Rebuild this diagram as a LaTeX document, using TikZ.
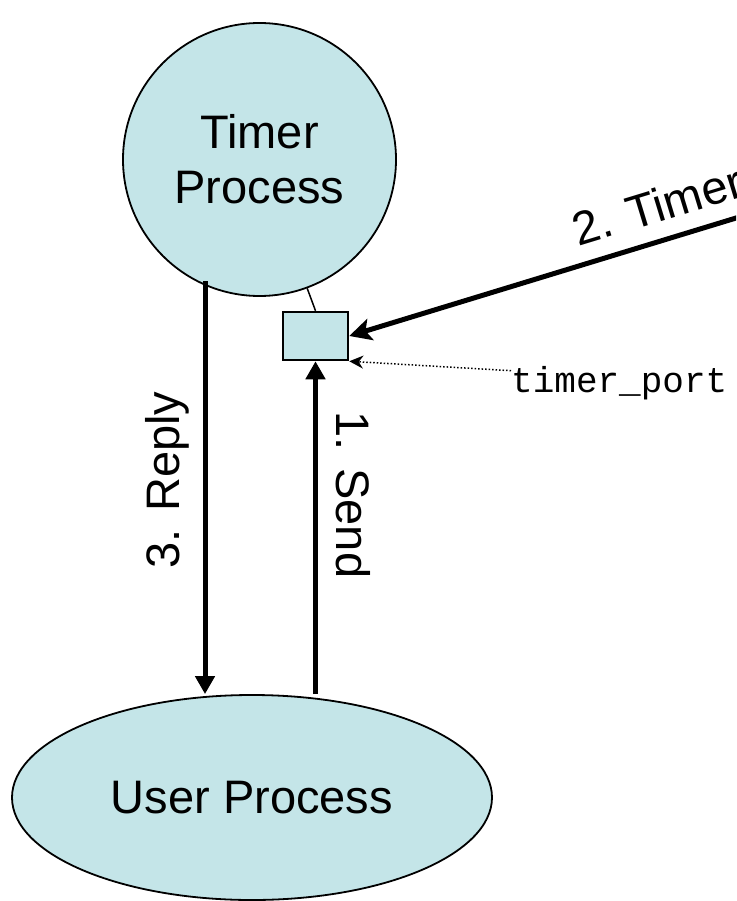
\documentclass[tikz,border=0pt]{standalone}
\usepackage{fontspec}
\setmainfont{Liberation Sans}
\setmonofont{Liberation Mono}
\usetikzlibrary{arrows.meta,shapes.geometric}
\definecolor{procfill}{RGB}{196,229,232}
\begin{document}
\begin{tikzpicture}
[x=1pt,y=-1pt,
 proc/.style={draw,line width=1.8pt,fill=procfill,font=\fontsize{47}{55}\selectfont,align=center},
 portbox/.style={draw,line width=2.5pt,fill=procfill,minimum width=65pt,minimum height=48pt,inner sep=0pt},
 msg/.style={line width=5pt,-{Triangle[length=18pt,width=19pt]}},
 lbl/.style={font=\fontsize{47}{55}\selectfont,inner sep=0pt}]
\clip (0,0) rectangle (736,901);

\node[proc,circle,minimum size=273pt] (timer) at (259.5,159.5) {Timer\\Process};
\node[proc,ellipse,minimum width=480pt,minimum height=205pt] (user) at (252,797.5) {User Process};
\node[portbox] (port) at (315.5,336) {};
\node[anchor=base west,inner sep=0pt,font=\ttfamily\fontsize{36}{40}\selectfont] (portlabel) at (511,392) {timer\_port};

\coordinate (rtop) at (205,281);
\coordinate (timersrc) at (900,168);

\draw[line width=1.5pt] (port.north) -- (timer);
\draw[msg] (rtop) -- (rtop |- user.north);
\draw[msg] (port.south |- user.north) -- (port.south);
\draw[msg,-{Stealth[length=22pt,width=22pt,inset=5pt]}] (timersrc) -- (port.east);
\draw[dotted,line width=1.5pt,-{Stealth[length=14pt,width=13pt]}] ([yshift=12pt]portlabel.west) -- (port.south east);

\node[lbl,rotate=90,anchor=base] (replylbl) at (179,480) {3. Reply};
\node[lbl,rotate=-90,anchor=base] (sendlbl) at (336,495) {1. Send};
\path (port.east) -- (timersrc) node[lbl,pos=0.426,sloped,above=18pt,anchor=south west] (timerlbl) {2. Timer};
\end{tikzpicture}
\end{document}
